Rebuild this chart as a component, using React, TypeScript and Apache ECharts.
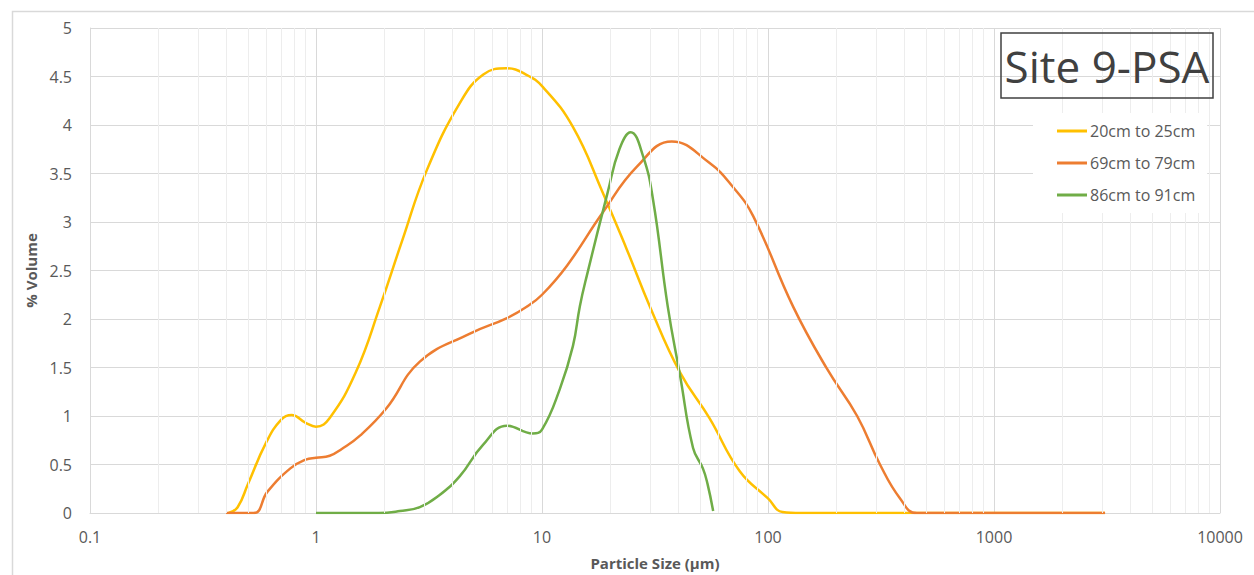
import React, { useEffect, useRef } from "react";
import * as echarts from "echarts";

const seriesNames = ["20cm to 25cm", "69cm to 79cm", "86cm to 91cm"];
const seriesColors = ["#FFC000", "#ED7D31", "#70AD47"];

const sizesA = [0.41, 0.45, 0.5, 0.6, 0.7, 0.78, 0.9, 1.0, 1.15, 1.5, 1.92, 2.4, 3.1, 4.34, 5.5, 6.97, 8.5, 10.1, 13.7, 18.6, 23.7, 30, 40.8, 55, 75, 100, 116, 140, 3100];
const valuesA = [0, 0.06, 0.3, 0.72, 0.96, 1.01, 0.93, 0.89, 0.98, 1.45, 2.13, 2.8, 3.54, 4.23, 4.52, 4.585, 4.52, 4.39, 3.98, 3.3, 2.72, 2.13, 1.45, 0.98, 0.43, 0.15, 0.01, 0, 0];

const sizesB = [0.4, 0.53, 0.61, 0.77, 0.9, 1.0, 1.15, 1.3, 1.57, 2.05, 2.88, 4.8, 7, 8.6, 10, 12.9, 18.6, 26.3, 37.5, 55, 70, 86, 129, 182, 248, 313, 384, 456, 3100];
const valuesB = [0, 0, 0.22, 0.46, 0.55, 0.57, 0.59, 0.66, 0.8, 1.08, 1.56, 1.85, 2.01, 2.13, 2.25, 2.55, 3.1, 3.57, 3.83, 3.61, 3.36, 3.06, 2.13, 1.49, 1.0, 0.5, 0.15, 0, 0];

const sizesC = [1, 1.9, 2.35, 2.88, 3.5, 4.33, 5.47, 7, 9.1, 10, 12, 13.7, 14.7, 15.8, 19.5, 22, 24.7, 28, 31, 36, 40.8, 46.6, 51.5, 54, 57.2];
const valuesC = [0, 0, 0.02, 0.06, 0.18, 0.38, 0.7, 0.9, 0.82, 0.86, 1.28, 1.72, 2.13, 2.45, 3.3, 3.75, 3.925, 3.68, 3.23, 2.13, 1.42, 0.67, 0.46, 0.3, 0.02];

const decades = [0.1, 1, 10, 100, 1000];
const minorMultipliers = [2, 3, 4, 5, 6, 7, 8, 9];

const chartTitle = "Site 9-PSA";
const xAxisTitle = "Particle Size (µm)";
const yAxisTitle = "% Volume";

const FONT = "'Open Sans', 'Noto Sans', sans-serif";

export default function App() {
  const ref = useRef<HTMLDivElement>(null);
  useEffect(() => {
    if (!ref.current) return;
    const chart = echarts.init(ref.current, null, { renderer: "svg" });
    const pairs = (xs: number[], ys: number[]) => xs.map((x, i) => [x, ys[i]]);
    const minorLines: any[] = [];
    decades.forEach((d) => minorMultipliers.forEach((m) => minorLines.push({ xAxis: +(d * m).toPrecision(6) })));
    const allData = [pairs(sizesA, valuesA), pairs(sizesB, valuesB), pairs(sizesC, valuesC)];
    chart.setOption({
      animation: false,
      backgroundColor: "#ffffff",
      grid: { left: 90, right: 34, top: 28, bottom: 60 },
      xAxis: {
        type: "log",
        logBase: 10,
        min: 0.1,
        max: 10000,
        name: xAxisTitle,
        nameLocation: "middle",
        nameGap: 42,
        nameTextStyle: { color: "#595959", fontSize: 15, fontWeight: "bold", fontFamily: FONT },
        axisLine: { show: true, lineStyle: { color: "#d9d9d9", width: 1 } },
        axisTick: { show: false },
        axisLabel: {
          color: "#595959",
          fontSize: 16,
          fontFamily: FONT,
          margin: 16,
          formatter: (v: number) => String(+Number(v).toPrecision(6)),
        },
        splitLine: { show: true, lineStyle: { color: "#d9d9d9", width: 1 } },
      },
      yAxis: {
        type: "value",
        min: 0,
        max: 5,
        interval: 0.5,
        name: yAxisTitle,
        nameLocation: "middle",
        nameGap: 45,
        nameTextStyle: { color: "#595959", fontSize: 15, fontWeight: "bold", fontFamily: FONT },
        axisLine: { show: true, lineStyle: { color: "#d9d9d9", width: 1 } },
        axisTick: { show: false },
        axisLabel: { color: "#595959", fontSize: 16, fontFamily: FONT, margin: 18 },
        splitLine: { show: true, lineStyle: { color: "#d9d9d9", width: 1 } },
      },
      legend: {
        data: seriesNames,
        orient: "vertical",
        left: 1033,
        top: 113,
        z: 20,
        backgroundColor: "#ffffff",
        padding: [10, 12, 10, 24],
        itemWidth: 30,
        itemHeight: 3,
        itemGap: 16,
        icon: "rect",
        textStyle: { color: "#595959", fontSize: 16, fontFamily: FONT, padding: [0, 0, 0, -2] },
      },
      graphic: [
        {
          type: "rect",
          left: 10,
          top: 9,
          shape: { width: 1270, height: 620 },
          style: { fill: "none", stroke: "#d9d9d9", lineWidth: 1.5 },
          silent: true,
          z: -10,
        },
        {
          type: "rect",
          x: 1001,
          y: 33,
          shape: { width: 212, height: 65 },
          style: { fill: "none", stroke: "#404040", lineWidth: 1.5 },
          z: 100,
        },
        {
          type: "text",
          x: 1107,
          y: 66,
          style: {
            text: chartTitle,
            fill: "#404040",
            font: `44px ${FONT}`,
            textAlign: "center",
            textVerticalAlign: "middle",
          },
          z: 100,
        },
      ],
      series: [
        {
          name: "minor-grid",
          type: "line",
          data: [[0.1, 0]],
          symbol: "none",
          lineStyle: { opacity: 0 },
          silent: true,
          z: 1,
          markLine: {
            silent: true,
            symbol: ["none", "none"],
            label: { show: false },
            lineStyle: { color: "#ededed", type: "solid", width: 1 },
            data: minorLines,
          },
        },
        ...seriesNames.map((name, i) => ({
          name,
          type: "line",
          data: allData[i],
          symbol: "none",
          smooth: 0.45,
          color: seriesColors[i],
          lineStyle: { color: seriesColors[i], width: 2.5 },
          z: 3,
        })),
      ],
    });
    return () => chart.dispose();
  }, []);
  return (
    <div
      ref={ref}
      style={{ position: "fixed", left: 0, top: 0, width: 1254, height: 575, background: "#fff" }}
    />
  );
}
